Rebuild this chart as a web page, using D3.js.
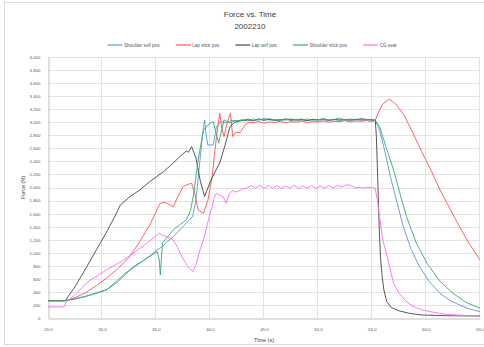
<!DOCTYPE html>
<html><head><meta charset="utf-8">
<script src="https://cdn.jsdelivr.net/npm/d3@7"></script>
<style>body{margin:0;background:#fff}svg{display:block;font-family:"Liberation Sans",Arial,sans-serif}</style>
</head><body><svg id="c" width="484" height="347"></svg>
<script>
const title = "Force vs. Time";
const subtitle = "2002210";
const xTitle = "Time (s)";
const yTitle = "Force (N)";
const xTicks = [25, 30, 35, 40, 45, 50, 55, 60, 65];
const xTickLabels = ["25.0", "30.0", "35.0", "40.0", "45.0", "50.0", "55.0", "60.0", "65.0"];
const yTicks = [0,200,400,600,800,1000,1200,1400,1600,1800,2000,2200,2400,2600,2800,3000,3200,3400,3600,3800,4000];
const seriesNames = ["Shoulder self pos.", "Lap stick pos.", "Lap self pos.", "Shoulder stick pos.", "CG seat"];
const seriesColors = ["#5b9bd5", "#ff5555", "#4a4a4a", "#3aae68", "#ff6ef0"];

// Shoulder self pos. [time s, force N]
const shoulderSelf = [[25,265],[26.6,265],[27.5,295],[28.5,335],[29.5,385],[30.5,440],[31.5,560],[32.5,720],[33.5,840],[34.5,960],[35.1,1040],[35.6,1100],[36.1,1180],[36.6,1247],[37.1,1330],[37.6,1420],[38.1,1502],[38.4,1560],[38.7,1809],[39.07,2422],[39.3,2800],[39.5,3035],[39.65,2800],[39.8,2652],[40.3,2652],[40.6,2933],[41.0,3010],[41.5,2990],[42,3030],[42.5,3020],
 [43,3040],[43.5,3020],[44,3050],[44.5,3030],[45,3060],[45.5,3035],[46,3045],[46.5,3020],[47,3055],[47.5,3030],[48,3040],[48.5,3050],[49,3025],[49.5,3045],[50,3035],[50.5,3060],[51,3030],[51.5,3040],[52,3065],[52.5,3035],[53,3050],[53.5,3040],[54,3060],[54.5,3045],[55,3040],[55.3,3030],
 [55.7,2882],[56.2,2550],[56.7,2166],[57.3,1780],[57.9,1400],[58.6,1060],[59.4,786],[60.3,560],[61.3,378],[62.2,270],[63.1,200],[64,140],[65,97]];

// Lap stick pos.
const lapStick = [[25,265],[26.6,265],[27.5,310],[28.5,390],[29.5,500],[30.5,620],[31.5,760],[32.5,930],[33.5,1170],[34.5,1450],[35.2,1700],[35.4,1758],[35.8,1775],[36.2,1740],[36.6,1706],[37.0,1850],[37.5,2013],[38.0,2050],[38.3,2065],[38.6,1900],[38.9,1656],[39.4,1605],[39.8,1800],[40.2,2166],[40.6,2779],[40.9,3138],[41.1,2900],[41.3,2779],[41.6,3000],[41.9,3138],[42.1,2780],[42.4,2850],[42.8,2840],[43.2,2950],[43.6,3000],
 [44,2990],[44.5,3010],[45,2985],[45.5,3005],[46,2995],[46.5,3015],[47,2990],[47.5,3010],[48,3000],[48.5,3020],[49,2995],[49.5,3010],[50,3005],[50.5,3020],[51,3000],[51.5,3015],[52,3010],[52.5,3025],[53,3005],[53.5,3020],[54,3015],[54.5,3025],[55,3010],[55.3,3030],
 [55.6,3150],[56.0,3280],[56.6,3352],[57.2,3280],[58.0,3100],[58.8,2831],[59.6,2550],[60.5,2250],[61.3,1962],[62.2,1680],[63.1,1400],[64.0,1140],[65,889]];

// Lap self pos.
const lapSelf = [[25,265],[26.6,265],[27.5,480],[28.5,760],[29.5,1050],[30.5,1340],[31.2,1560],[31.7,1732],[32.5,1850],[33.5,1962],[34.5,2100],[35.7,2243],[36.5,2360],[37.2,2473],[37.8,2560],[38.0,2540],[38.3,2626],[38.7,2450],[39.1,2100],[39.5,1860],[40.0,2080],[40.5,2250],[40.9,2376],[41.4,2650],[41.85,2933],[42.3,3000],[42.8,3020],
 [43.5,3040],[44,3020],[44.5,3050],[45,3030],[45.5,3045],[46,3025],[46.5,3040],[47,3035],[47.5,3050],[48,3030],[48.5,3040],[49,3025],[49.5,3045],[50,3035],[50.5,3040],[51,3030],[51.5,3045],[52,3035],[52.5,3040],[53,3030],[53.5,3045],[54,3035],[54.5,3040],[55,3035],[55.3,3030],
 [55.4,2800],[55.5,2300],[55.6,1750],[55.7,1250],[55.8,900],[55.95,620],[56.1,430],[56.36,250],[56.8,160],[57.5,110],[58.5,70],[59.7,45],[62,35],[65,30]];

// Shoulder stick pos.
const shoulderStick = [[25,265],[26.6,265],[27.5,290],[28.5,330],[29.5,380],[30.4,429],[31.5,590],[32.9,786],[34.0,900],[35.1,1016],[35.3,900],[35.4,659],[35.5,900],[35.6,1150],[36.1,1250],[36.6,1349],[37.2,1430],[37.8,1502],[38.2,1650],[38.5,1912],[38.9,2422],[39.4,2882],[39.8,2960],[40.3,3010],[40.8,2678],[41.3,3035],[41.8,2990],[42.3,3020],
 [43,3030],[43.5,3050],[44,3025],[44.5,3045],[45,3035],[45.5,3055],[46,3030],[46.5,3040],[47,3050],[47.5,3025],[48,3045],[48.5,3035],[49,3050],[49.5,3030],[50,3040],[50.5,3045],[51,3035],[51.5,3040],[52,3030],[52.5,3045],[53,3040],[53.5,3035],[54,3045],[54.5,3040],[55,3035],[55.3,3030],
 [55.7,2933],[56.3,2620],[57.0,2269],[57.6,1900],[58.2,1553],[59.1,1150],[60.1,838],[61.3,560],[62.5,378],[63.7,240],[65,149]];

// CG seat
const cgSeat = [[25,170],[26.5,170],[26.7,250],[27.3,327],[28.1,460],[28.9,582],[29.6,650],[30.4,736],[31.2,810],[32.0,889],[32.7,970],[33.5,1068],[34.2,1150],[34.9,1247],[35.3,1300],[35.6,1270],[36.1,1240],[36.6,1196],[37.0,1080],[37.4,940],[37.9,800],[38.4,710],[38.7,820],[39.07,1042],[39.4,1200],[39.7,1400],[40.0,1600],[40.2,1706],[40.4,1850],[40.6,1912],[40.9,1880],[41.2,1860],[41.5,1758],[41.8,1912],[42.1,1950],[42.5,1930],[43,1980],[43.4,1988],
 [43.8,2030],[44.2,1990],[44.6,2035],[45,1985],[45.4,2030],[45.8,1990],[46.2,2030],[46.6,1985],[47,2025],[47.4,1990],[47.8,2030],[48.2,1985],[48.6,2025],[49,1990],[49.4,2030],[49.8,1985],[50.2,2025],[50.6,1990],[51,2030],[51.4,1990],[51.8,2030],[52.2,2010],[52.6,2040],[53,2035],[53.4,1995],[53.8,2000],[54.2,1990],[54.6,2005],[55,1995],[55.3,1990],
 [55.5,1800],[55.7,1553],[56.0,1200],[56.4,940],[57.0,532],[57.5,380],[58.2,250],[58.8,180],[59.5,130],[60.3,100],[61.9,55],[63.5,40],[65,30]];

const seriesData = [shoulderSelf, lapStick, lapSelf, shoulderStick, cgSeat];

const svg = d3.select("#c");
const W = 484, H = 347;
const m = {l: 48, r: 4, t: 57, b: 29};
const x = d3.scaleLinear().domain([25, 65]).range([m.l, W - m.r]);
const y = d3.scaleLinear().domain([0, 4000]).range([H - m.b, m.t]);

// outer border
svg.append("rect").attr("x", 4.5).attr("y", 2.5).attr("width", 490).attr("height", 342)
  .attr("fill", "none").attr("stroke", "#d9d9d9").attr("stroke-width", 1);

// gridlines
svg.append("g").selectAll("line").data(yTicks.slice(1)).join("line")
  .attr("x1", m.l).attr("x2", W - m.r)
  .attr("y1", d => Math.round(y(d)) + 0.5).attr("y2", d => Math.round(y(d)) + 0.5)
  .attr("stroke", "#e3e3e3").attr("stroke-width", 1);
svg.append("g").selectAll("line").data(xTicks.slice(1)).join("line")
  .attr("y1", m.t).attr("y2", H - m.b)
  .attr("x1", d => Math.round(x(d)) - 0.5).attr("x2", d => Math.round(x(d)) - 0.5)
  .attr("stroke", "#e3e3e3").attr("stroke-width", 1);

// axes
const yAxis = d3.axisLeft(y).tickValues(yTicks).tickSize(0).tickPadding(8);
const gy = svg.append("g").attr("transform", `translate(${m.l + 0.5},0)`).call(yAxis);
gy.select(".domain").attr("stroke", "#bfbfbf");
gy.selectAll("text").attr("font-size", 4.4).attr("fill", "#595959").attr("font-family", "Liberation Sans, Arial");

const xAxis = d3.axisBottom(x).tickValues(xTicks).tickFormat((d, i) => xTickLabels[i]).tickSize(0).tickPadding(9);
const gx = svg.append("g").attr("transform", `translate(0,${H - m.b + 0.5})`).call(xAxis);
gx.select(".domain").attr("stroke", "#bfbfbf");
gx.selectAll("text").attr("font-size", 4.4).attr("fill", "#595959").attr("font-family", "Liberation Sans, Arial");

// lines
const line = d3.line().x(d => x(d[0])).y(d => y(d[1]));
seriesData.forEach((s, i) => {
  svg.append("path").datum(s).attr("d", line).attr("fill", "none")
    .attr("stroke", seriesColors[i]).attr("stroke-width", 1).attr("stroke-linejoin", "round")
    .attr("stroke-opacity", 0.92);
});

// titles
svg.append("text").attr("x", 250).attr("y", 17).attr("text-anchor", "middle")
  .attr("font-size", 8).attr("fill", "#404040").text(title);
svg.append("text").attr("x", 250).attr("y", 29).attr("text-anchor", "middle")
  .attr("font-size", 8).attr("fill", "#404040").text(subtitle);
svg.append("text").attr("x", (m.l + W - m.r) / 2).attr("y", 342).attr("text-anchor", "middle")
  .attr("font-size", 5.5).attr("fill", "#404040").text(xTitle);
svg.append("text").attr("transform", `translate(25,${(m.t + H - m.b) / 2}) rotate(-90)`)
  .attr("text-anchor", "middle").attr("font-size", 5.5).attr("fill", "#404040").text(yTitle);

// legend
const leg = svg.append("g");
let lx = 0;
seriesNames.forEach((n, i) => {
  const g = leg.append("g").attr("transform", `translate(${lx},0)`);
  g.append("line").attr("x1", 0).attr("x2", 15).attr("y1", 0).attr("y2", 0)
    .attr("stroke", seriesColors[i]).attr("stroke-width", 1.2);
  const t = g.append("text").attr("x", 16.5).attr("y", 1.6).attr("font-size", 4.6)
    .attr("fill", "#595959").text(n);
  lx += 16.5 + t.node().getComputedTextLength() + 15;
});
const legW = lx - 15;
leg.attr("transform", `translate(${252 - legW / 2},45)`);
</script></body></html>
